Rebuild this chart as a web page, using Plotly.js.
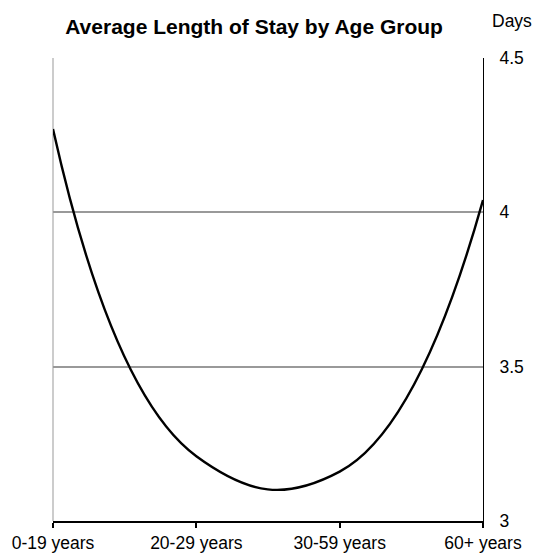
<!DOCTYPE html>
<html>
<head>
<meta charset="utf-8">
<script src="https://cdn.plot.ly/plotly-3.0.1.min.js"></script>
<style>html,body{margin:0;padding:0;background:#fff}#chart{width:536px;height:559px}</style>
</head>
<body>
<div id="chart"></div>
<script>
var categories = ["0-19 years", "20-29 years", "30-59 years", "60+ years"];
var avgDays = [4.27, 3.21, 3.16, 4.04];
var yTicks = [3, 3.5, 4, 4.5];
var yTickLabels = ["3", "3.5", "4", "4.5"];

var trace = {
  type: "scatter",
  mode: "lines",
  x: categories,
  y: avgDays,
  line: {color: "#000", width: 2.4, shape: "spline", smoothing: 1.3},
  hoverinfo: "x+y"
};

var layout = {
  width: 536, height: 559,
  margin: {l: 53, r: 53, t: 58, b: 38},
  paper_bgcolor: "#fff", plot_bgcolor: "#fff",
  font: {family: "Liberation Sans, Arial, sans-serif", size: 17.5, color: "#000"},
  showlegend: false,
  title: {text: "<b>Average Length of Stay by Age Group</b>", font: {size: 21, color: "#000"},
          x: 0.474, xanchor: "center", y: 0.953, yanchor: "middle"},
  xaxis: {
    type: "category", range: [0, 3], showgrid: false, zeroline: false,
    showline: true, linecolor: "#000", linewidth: 2,
    ticks: "outside", ticklen: 5, tickwidth: 2, tickcolor: "#000",
    tickfont: {size: 17.5}, fixedrange: true
  },
  yaxis: {
    side: "right", range: [3, 4.5], tickvals: yTicks, ticktext: yTickLabels,
    showgrid: true, gridcolor: "#999", gridwidth: 2, zeroline: false,
    showline: true, linecolor: "#000", linewidth: 1,
    ticks: "", ticklabelstandoff: 12, tickfont: {size: 17.5}, fixedrange: true
  },
  shapes: [
    {type: "line", xref: "paper", yref: "paper", x0: 0, x1: 0, y0: 0, y1: 1,
     line: {color: "#ccc", width: 2}, layer: "below"}
  ],
  annotations: [
    {text: "Days", xref: "paper", yref: "paper", x: 1.016, y: 1.08, xanchor: "left", yanchor: "middle",
     showarrow: false, font: {size: 17.5}}
  ]
};

Plotly.newPlot("chart", [trace], layout, {displayModeBar: false, staticPlot: true});
</script>
</body>
</html>
